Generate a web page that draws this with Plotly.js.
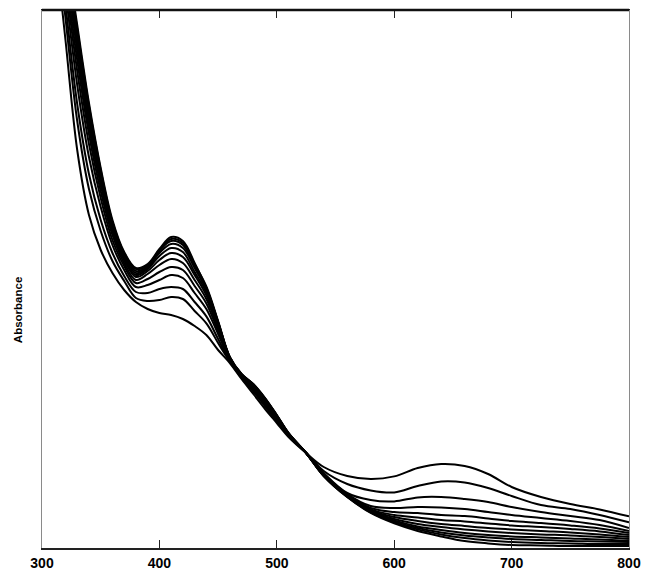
<!DOCTYPE html>
<html>
<head>
<meta charset="utf-8">
<script src="https://cdn.plot.ly/plotly-3.0.1.min.js"></script>
<style>
  html, body { margin: 0; padding: 0; background: #ffffff; }
  #chart { width: 645px; height: 577px; }
</style>
</head>
<body>
<div id="chart"></div>
<script>
// Wavelength (nm)
const wavelengths = [310, 320, 330, 340, 350, 360, 370, 380, 390, 400, 410, 420, 430, 440, 450, 460, 470, 480, 490, 500, 510, 525, 540, 560, 580, 600, 620, 640, 660, 680, 700, 725, 750, 775, 800];

// Absorbance spectra (arbitrary units)
const spec01 = [3.09, 2.54, 1.99, 1.665, 1.49, 1.375, 1.29, 1.23, 1.195, 1.175, 1.165, 1.145, 1.11, 1.065, 0.99, 0.925, 0.845, 0.77, 0.695, 0.625, 0.555, 0.475, 0.405, 0.36, 0.345, 0.358, 0.40, 0.42, 0.41, 0.37, 0.305, 0.255, 0.22, 0.193, 0.158];
const spec02 = [3.18, 2.65, 2.135, 1.795, 1.585, 1.435, 1.335, 1.25, 1.235, 1.24, 1.255, 1.245, 1.185, 1.123, 1.025, 0.932, 0.851, 0.782, 0.708, 0.634, 0.56, 0.475, 0.385, 0.32, 0.288, 0.278, 0.31, 0.333, 0.328, 0.30, 0.26, 0.215, 0.195, 0.165, 0.128];
const spec03 = [3.24, 2.715, 2.22, 1.87, 1.64, 1.475, 1.36, 1.28, 1.275, 1.295, 1.305, 1.295, 1.23, 1.158, 1.045, 0.936, 0.854, 0.789, 0.715, 0.64, 0.562, 0.475, 0.375, 0.275, 0.24, 0.233, 0.253, 0.255, 0.245, 0.23, 0.205, 0.18, 0.16, 0.14, 0.10];
const spec04 = [3.30, 2.785, 2.315, 1.955, 1.705, 1.515, 1.39, 1.305, 1.315, 1.34, 1.365, 1.35, 1.275, 1.195, 1.07, 0.94, 0.858, 0.796, 0.724, 0.646, 0.565, 0.475, 0.37, 0.27, 0.21, 0.20, 0.205, 0.203, 0.195, 0.18, 0.165, 0.15, 0.135, 0.115, 0.085];
const spec05 = [3.34, 2.84, 2.385, 2.02, 1.75, 1.54, 1.41, 1.325, 1.345, 1.38, 1.405, 1.39, 1.31, 1.223, 1.085, 0.944, 0.861, 0.802, 0.73, 0.65, 0.568, 0.475, 0.368, 0.268, 0.20, 0.18, 0.175, 0.165, 0.16, 0.148, 0.135, 0.125, 0.113, 0.098, 0.075];
const spec06 = [3.38, 2.88, 2.44, 2.07, 1.785, 1.565, 1.425, 1.34, 1.37, 1.415, 1.445, 1.425, 1.34, 1.245, 1.10, 0.946, 0.863, 0.806, 0.735, 0.654, 0.569, 0.475, 0.365, 0.265, 0.193, 0.165, 0.153, 0.14, 0.133, 0.123, 0.113, 0.105, 0.095, 0.083, 0.065];
const spec07 = [3.405, 2.915, 2.485, 2.105, 1.815, 1.585, 1.44, 1.355, 1.385, 1.44, 1.475, 1.455, 1.365, 1.263, 1.11, 0.948, 0.865, 0.81, 0.738, 0.657, 0.571, 0.475, 0.365, 0.263, 0.188, 0.155, 0.135, 0.12, 0.11, 0.10, 0.093, 0.085, 0.078, 0.068, 0.055];
const spec08 = [3.43, 2.945, 2.52, 2.14, 1.84, 1.60, 1.45, 1.365, 1.395, 1.46, 1.50, 1.48, 1.38, 1.278, 1.118, 0.95, 0.866, 0.813, 0.742, 0.659, 0.572, 0.475, 0.363, 0.26, 0.185, 0.145, 0.12, 0.105, 0.093, 0.083, 0.075, 0.068, 0.063, 0.055, 0.045];
const spec09 = [3.45, 2.965, 2.55, 2.17, 1.86, 1.615, 1.46, 1.375, 1.402, 1.475, 1.52, 1.50, 1.40, 1.29, 1.125, 0.952, 0.868, 0.815, 0.745, 0.661, 0.573, 0.475, 0.363, 0.26, 0.183, 0.138, 0.108, 0.09, 0.075, 0.065, 0.058, 0.053, 0.048, 0.043, 0.035];
const spec10 = [3.465, 2.985, 2.575, 2.19, 1.875, 1.625, 1.47, 1.385, 1.408, 1.485, 1.535, 1.515, 1.41, 1.30, 1.13, 0.953, 0.869, 0.817, 0.747, 0.663, 0.574, 0.475, 0.36, 0.258, 0.18, 0.133, 0.10, 0.078, 0.063, 0.053, 0.045, 0.04, 0.035, 0.033, 0.03];
const spec11 = [3.48, 3.00, 2.595, 2.21, 1.89, 1.63, 1.475, 1.395, 1.414, 1.49, 1.545, 1.525, 1.42, 1.308, 1.135, 0.954, 0.869, 0.819, 0.748, 0.664, 0.574, 0.475, 0.36, 0.255, 0.178, 0.128, 0.093, 0.068, 0.05, 0.038, 0.03, 0.025, 0.023, 0.02, 0.02];
const spec12 = [3.49, 3.015, 2.615, 2.225, 1.90, 1.64, 1.48, 1.40, 1.42, 1.495, 1.555, 1.535, 1.425, 1.30, 1.13, 0.955, 0.87, 0.82, 0.75, 0.665, 0.575, 0.475, 0.36, 0.255, 0.175, 0.123, 0.085, 0.058, 0.035, 0.023, 0.015, 0.013, 0.01, 0.01, 0.01];

const xTickVals = [300, 400, 500, 600, 700, 800];
const xTickText = ["300", "400", "500", "600", "700", "800"];
const yTitle = "Absorbance";

const spectra = [spec01, spec02, spec03, spec04, spec05, spec06, spec07, spec08, spec09, spec10, spec11, spec12];

const traces = spectra.map(function (s) {
  return {
    x: wavelengths,
    y: s,
    type: 'scatter',
    mode: 'lines',
    line: { color: '#000000', width: 2, shape: 'spline', smoothing: 1 },
    hoverinfo: 'skip',
    showlegend: false
  };
});

const fontFam = '"Liberation Sans", Arial, Helvetica, sans-serif';

const layout = {
  width: 645,
  height: 577,
  margin: { l: 42, r: 16, t: 10, b: 29 },
  paper_bgcolor: '#ffffff',
  plot_bgcolor: '#ffffff',
  showlegend: false,
  xaxis: {
    range: [300, 800],
    tickvals: xTickVals,
    ticktext: xTickText,
    ticks: 'inside',
    ticklen: 8,
    tickwidth: 1,
    tickcolor: '#222222',
    showline: true,
    linecolor: '#222222',
    linewidth: 1.5,
    mirror: 'ticks',
    showgrid: false,
    zeroline: false,
    ticklabelstandoff: 2,
    tickfont: { family: fontFam, size: 14, color: '#000000', weight: 'bold' }
  },
  yaxis: {
    range: [0, 2.69],
    showticklabels: false,
    ticks: '',
    showline: true,
    linecolor: '#8a8a8a',
    linewidth: 1,
    mirror: true,
    showgrid: false,
    zeroline: false
  },
  shapes: [
    { type: 'line', xref: 'paper', yref: 'paper', x0: 0, x1: 1, y0: 1, y1: 1,
      line: { color: '#111111', width: 2.5 } }
  ],
  annotations: [
    { text: yTitle, xref: 'paper', yref: 'paper', x: -0.041, y: 0.442,
      xanchor: 'center', yanchor: 'middle', textangle: -90, showarrow: false,
      font: { family: fontFam, size: 11.5, color: '#000000', weight: 'bold' } }
  ]
};

Plotly.newPlot('chart', traces, layout, { staticPlot: true, displayModeBar: false });
</script>
</body>
</html>
